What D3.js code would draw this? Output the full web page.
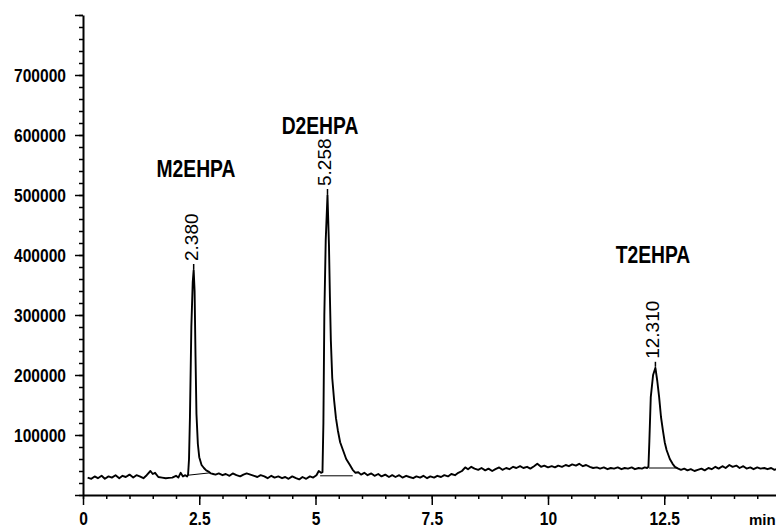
<!DOCTYPE html>
<meta charset="utf-8">
<style>
body { margin: 0; background: #fff; }
.trace { fill: none; stroke: #000; stroke-width: 1.9px; stroke-linejoin: round; }
.axis path { stroke: #000; stroke-width: 2px; }
.axis line { stroke: #000; stroke-width: 1.5px; }
.axis text { font-family: "Liberation Sans", Arial, sans-serif; font-weight: bold; font-size: 19px; fill: #000; }
.name { font-family: "Liberation Sans", Arial, sans-serif; font-weight: bold; font-size: 23.5px; fill: #000; }
.rt { font-family: "Liberation Sans", Arial, sans-serif; font-size: 19px; fill: #000; }
.intg { stroke: #000; stroke-width: 1px; }
.apex { stroke: #000; stroke-width: 1.5px; }
</style>
<body>
<svg width="776" height="528"></svg>
<script src="https://d3js.org/d3.v7.min.js"></script>
<script>

// chromatogram trace: [time (min), abundance]
var trace = [
  [0.10, 29000], [0.18, 27000], [0.25, 31000], [0.32, 28000], [0.40, 32000], [0.47, 27000],
  [0.55, 31000], [0.62, 29000], [0.70, 33000], [0.78, 28000], [0.85, 32000], [0.92, 30000],
  [1.00, 34000], [1.08, 29000], [1.15, 33000], [1.22, 31000], [1.30, 28000], [1.37, 33000],
  [1.45, 40000], [1.50, 35000], [1.55, 37000], [1.62, 30000], [1.70, 29000], [1.78, 28000],
  [1.85, 28500], [1.92, 29000], [2.00, 32000], [2.05, 29000], [2.10, 37000], [2.15, 31000],
  [2.20, 33000], [2.24, 31000],
  // M2EHPA
  [2.26, 34000], [2.28, 60000], [2.30, 130000], [2.33, 280000], [2.36, 355000], [2.38, 375000],
  [2.40, 340000], [2.42, 230000], [2.44, 135000], [2.47, 85000], [2.50, 63000], [2.55, 50000],
  [2.60, 45000], [2.65, 41000], [2.70, 39000], [2.75, 36000], [2.80, 35000],
  [2.85, 34000], [2.92, 36000], [3.00, 33000], [3.07, 35000], [3.15, 32000], [3.22, 36000],
  [3.30, 33000], [3.38, 31000], [3.45, 34000], [3.52, 36000], [3.60, 34000], [3.68, 32000],
  [3.75, 30000], [3.82, 33000], [3.90, 31000], [3.97, 28000], [4.05, 32000], [4.12, 29000],
  [4.20, 31000], [4.28, 28000], [4.35, 30000], [4.42, 27000], [4.50, 31000], [4.58, 28000],
  [4.65, 26000], [4.72, 30000], [4.80, 27000], [4.88, 31000], [4.95, 29000], [5.02, 33000],
  [5.07, 40000], [5.12, 37000],
  // D2EHPA
  [5.15, 38000], [5.17, 120000], [5.19, 300000], [5.22, 425000], [5.258, 500000], [5.29, 415000],
  [5.31, 330000], [5.33, 258000], [5.36, 195000], [5.40, 158000], [5.44, 128000], [5.48, 108000],
  [5.53, 88000], [5.59, 75000], [5.66, 60000], [5.74, 50000], [5.80, 42000], [5.86, 37000],
  [5.92, 38000], [5.98, 34000], [6.05, 37000], [6.12, 33000], [6.20, 36000], [6.27, 32000],
  [6.35, 35000], [6.42, 31000], [6.50, 34000], [6.58, 30000], [6.65, 33000], [6.72, 30000],
  [6.80, 33000], [6.87, 29000], [6.95, 32000], [7.02, 30000], [7.10, 28000], [7.17, 31000],
  [7.25, 29000], [7.32, 32000], [7.40, 28000], [7.47, 31000], [7.55, 29000], [7.62, 32000],
  [7.70, 30000], [7.77, 33000], [7.85, 31000], [7.92, 35000], [8.00, 33000], [8.07, 37000],
  [8.15, 40000], [8.22, 46000], [8.28, 43000], [8.35, 47000], [8.42, 44000], [8.50, 42000],
  [8.57, 45000], [8.65, 41000], [8.72, 44000], [8.80, 40000], [8.87, 43000], [8.95, 46000],
  [9.02, 42000], [9.10, 45000], [9.17, 43000], [9.25, 47000], [9.32, 45000], [9.40, 48000],
  [9.47, 45000], [9.55, 47000], [9.62, 44000], [9.70, 48000], [9.77, 52000], [9.85, 47000],
  [9.92, 49000], [10.00, 46000], [10.08, 48000], [10.15, 46000], [10.22, 49000], [10.30, 47000],
  [10.38, 50000], [10.45, 48000], [10.52, 51000], [10.60, 49000], [10.67, 52000], [10.75, 48000],
  [10.82, 50000], [10.90, 47000], [10.97, 45000], [11.05, 46000], [11.12, 44000], [11.20, 46000],
  [11.28, 43000], [11.35, 45000], [11.42, 44000], [11.50, 46000], [11.58, 43000], [11.65, 45000],
  [11.72, 44000], [11.80, 46000], [11.87, 43000], [11.95, 45000], [12.02, 44000], [12.08, 46000],
  [12.13, 45000],
  // T2EHPA
  [12.16, 47000], [12.18, 90000], [12.21, 163000], [12.26, 200000], [12.31, 212000], [12.35, 190000],
  [12.39, 163000], [12.43, 130000], [12.47, 108000], [12.51, 88000], [12.55, 75000], [12.62, 60000],
  [12.68, 52000], [12.73, 47000], [12.80, 44000],
  [12.86, 42000], [12.93, 44000], [13.00, 41000], [13.07, 43000], [13.15, 40000], [13.22, 42000],
  [13.30, 44000], [13.37, 41000], [13.45, 45000], [13.52, 43000], [13.60, 47000], [13.67, 44000],
  [13.75, 48000], [13.82, 45000], [13.90, 50000], [13.97, 47000], [14.05, 49000], [14.12, 45000],
  [14.20, 48000], [14.27, 44000], [14.35, 46000], [14.42, 43000], [14.50, 46000], [14.57, 44000],
  [14.65, 45000], [14.72, 43000], [14.80, 45000], [14.87, 42000], [14.95, 44000]
];

// peaks
var peakNames = ["M2EHPA", "D2EHPA", "T2EHPA"];
var peakTimes = [2.380, 5.258, 12.310];
var peakLabels = ["2.380", "5.258", "12.310"];
var peakTops = [375000, 500000, 212000];
var namePos = [[196, 177], [320, 134], [653, 263]]; // centre x, baseline of compound name

// integration baselines [t0, v0, t1, v1]
var intLines = [
  [2.26, 33000, 2.74, 37000],
  [5.10, 32000, 5.80, 32000],
  [12.17, 45000, 12.78, 45000]
];

// axis ticks
var yMajor = [0, 100000, 200000, 300000, 400000, 500000, 600000, 700000, 800000];
var yLabels = ["", "100000", "200000", "300000", "400000", "500000", "600000", "700000", ""];
var xMajor = [0, 2.5, 5, 7.5, 10, 12.5];
var xLabels = ["0", "2.5", "5", "7.5", "10", "12.5"];

// narrow-font look: squeeze text horizontally
function squeeze(sel, f) {
  sel.each(function() {
    var w = this.getComputedTextLength();
    if (w > 0) d3.select(this).attr("textLength", w * f).attr("lengthAdjust", "spacingAndGlyphs");
  });
}

var svg = d3.select("svg");

var x = d3.scaleLinear().domain([0, 15]).range([83, 780.5]);
var y = d3.scaleLinear().domain([0, 800000]).range([495, 15]);

// minor ticks
svg.append("g")
    .attr("class", "axis")
    .attr("transform", "translate(83,0)")
    .call(d3.axisLeft(y).tickValues(d3.range(0, 800001, 20000)).tickSize(4).tickSizeOuter(0).tickFormat(""))
    .select(".domain").remove();

svg.append("g")
    .attr("class", "axis")
    .attr("transform", "translate(0,495)")
    .call(d3.axisBottom(x).tickValues(d3.range(0, 15, 0.5)).tickSize(4).tickSizeOuter(0).tickFormat(""))
    .select(".domain").remove();

// major ticks + labels
var yAx = svg.append("g")
    .attr("class", "axis")
    .attr("transform", "translate(83,0)")
    .call(d3.axisLeft(y).tickValues(yMajor).tickSize(8).tickSizeOuter(0).tickPadding(9)
      .tickFormat(function(d, i) { return yLabels[i]; }));

var xAx = svg.append("g")
    .attr("class", "axis")
    .attr("transform", "translate(0,495)")
    .call(d3.axisBottom(x).tickValues(xMajor).tickSize(10).tickSizeOuter(0).tickPadding(7)
      .tickFormat(function(d, i) { return xLabels[i]; }));

squeeze(yAx.selectAll("text"), 0.82);
squeeze(xAx.selectAll("text"), 0.82);

svg.append("g").attr("class", "axis")
  .append("text")
    .style("font-size", "15px")
    .attr("x", 749).attr("y", 525)
    .text("min");

// integration lines
svg.selectAll(".intg")
  .data(intLines)
  .enter().append("line")
    .attr("class", "intg")
    .attr("x1", function(d) { return x(d[0]); })
    .attr("y1", function(d) { return y(d[1]); })
    .attr("x2", function(d) { return x(d[2]); })
    .attr("y2", function(d) { return y(d[3]); });

// the trace
var line = d3.line()
    .x(function(d) { return x(d[0]); })
    .y(function(d) { return y(d[1]); });

svg.append("path")
    .datum(trace)
    .attr("class", "trace")
    .attr("d", line);

// apex marks, retention times and compound names
peakTimes.forEach(function(t, i) {
  var px = x(t), py = y(peakTops[i]);
  svg.append("line")
      .attr("class", "apex")
      .attr("x1", px).attr("x2", px)
      .attr("y1", py - 1).attr("y2", py - 6);
  svg.append("text")
      .attr("class", "rt")
      .attr("transform", "translate(" + (px + 4) + "," + (py - 9) + ") rotate(-90)")
      .text(peakLabels[i]);
  var nm = svg.append("text")
      .attr("class", "name")
      .attr("text-anchor", "middle")
      .attr("x", namePos[i][0])
      .attr("y", namePos[i][1])
      .text(peakNames[i]);
  squeeze(nm, 0.82);
});

</script>
</body>
